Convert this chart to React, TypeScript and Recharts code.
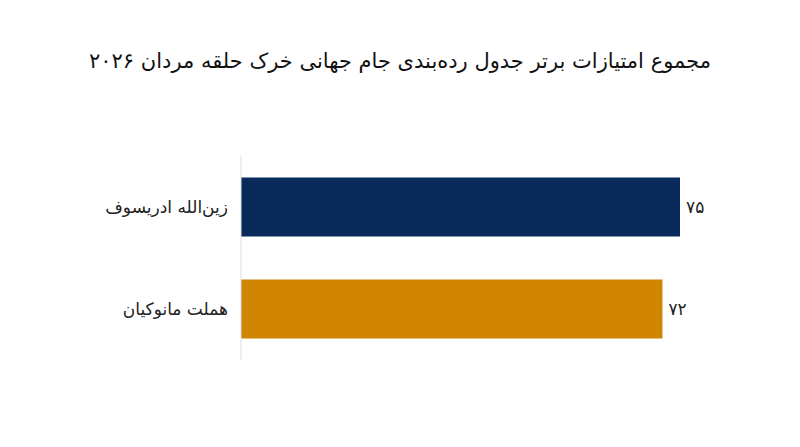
import { BarChart, Bar, XAxis, YAxis, LabelList, Cell } from 'recharts';

const players = ['زین‌الله ادریسوف', 'هملت مانوکیان'];
const scores = [75, 72];
const barColors = ['#0a2a5c', '#cf8500'];

const toPersianDigits = (n: number) =>
  String(n).replace(/\d/g, (d) => '۰۱۲۳۴۵۶۷۸۹'[Number(d)]);

const chartData = players.map((name, i) => ({ name, value: scores[i] }));

const FONT = '"DejaVu Sans", "Noto Sans", sans-serif';

export default function App() {
  return (
    <div style={{ position: 'absolute', left: 0, top: 0, width: 800, height: 447, background: '#fff', fontFamily: FONT }}>
      <div
        dir="rtl"
        style={{
          position: 'absolute',
          top: 49,
          left: 0,
          width: 800,
          textAlign: 'center',
          fontSize: 21,
          color: '#111',
        }}
      >
        مجموع امتیازات برتر جدول رده‌بندی جام جهانی خرک حلقه مردان ۲۰۲۶
      </div>
      <BarChart
        width={800}
        height={447}
        data={chartData}
        layout="vertical"
        margin={{ top: 156, right: 120, bottom: 87, left: 100 }}
        barCategoryGap="21%"
      >
        <XAxis type="number" domain={[0, 75]} hide />
        <YAxis
          type="category"
          dataKey="name"
          width={141}
          tickLine={false}
          tickSize={0}
          tickMargin={13}
          axisLine={{ stroke: '#dddddd' }}
          tick={{ fill: '#222', fontSize: 17, fontFamily: FONT }}
        />
        <Bar dataKey="value" isAnimationActive={false}>
          {chartData.map((entry, i) => (
            <Cell key={`cell-${i}`} fill={barColors[i]} />
          ))}
          <LabelList
            dataKey="value"
            position="right"
            offset={6}
            formatter={(v: any) => toPersianDigits(Number(v))}
            style={{ fill: '#222', fontSize: 17, fontFamily: FONT }}
          />
        </Bar>
      </BarChart>
    </div>
  );
}
